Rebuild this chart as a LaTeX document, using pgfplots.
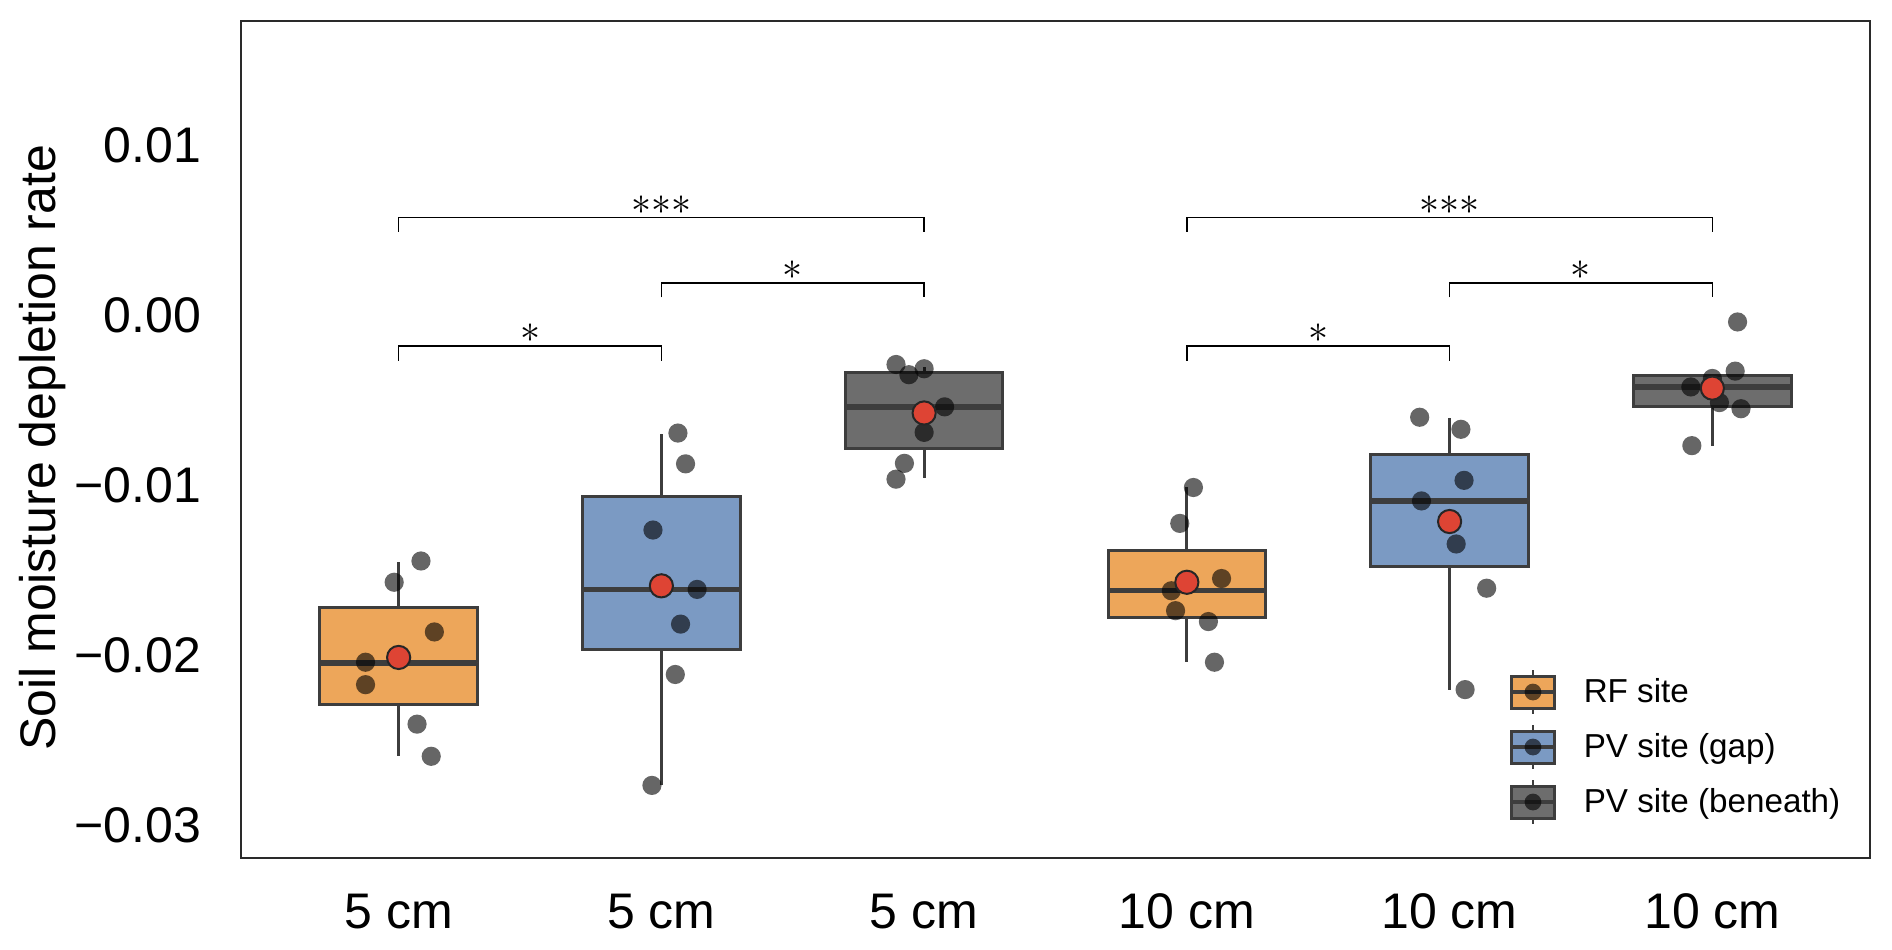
\documentclass[border=0pt]{standalone}
\usepackage{fontspec}
\setmainfont{Liberation Sans}
\usepackage{pgfplots}
\pgfplotsset{compat=1.18}
\usepgfplotslibrary{statistics}
\usetikzlibrary{calc}
\definecolor{rfc}{HTML}{EDA65A}
\definecolor{gapc}{HTML}{7B9AC3}
\definecolor{benc}{HTML}{6D6D6D}
\definecolor{edgec}{HTML}{3D3D3D}
\definecolor{framec}{HTML}{2A2A2A}
\definecolor{meanc}{HTML}{DE4434}
\pgfplotsset{
  sbox/.style={boxplot/box extend=0.6, boxplot/whisker extend=0,
    draw=edgec, line width=0.75pt,
    boxplot/every median/.style={line width=1.35pt}},
  jit/.style={only marks, mark=*, mark size=2.4pt,
    mark options={draw opacity=0, fill=black, fill opacity=0.6}},
  brk/.style={black, line width=0.4pt, sharp plot, no marks},
}
\newcommand{\stars}[1]{\fontsize{9.8}{11}\selectfont$#1$}

\begin{document}
\fontsize{12.5}{15}\selectfont
\begin{tikzpicture}
\begin{axis}[
  scale only axis, width=407.25pt, height=209.25pt,
  xmin=-0.6, xmax=5.6, ymin=-0.0319, ymax=0.0173,
  xtick={0,1,2,3,4,5},
  xticklabels={5 cm,5 cm,5 cm,10 cm,10 cm,10 cm},
  ytick={-0.03,-0.02,-0.01,0,0.01},
  yticklabels={−0.03,−0.02,−0.01,0.00,0.01},
  scaled y ticks=false,
  major tick length=0pt,
  axis line style={framec, line width=0.7pt},
  xticklabel style={anchor=north, inner sep=0pt, yshift=-8.75pt},
  yticklabel style={anchor=east, inner sep=0pt, xshift=-9.75pt},
  boxplot/draw direction=y,
  clip=false,
]
% boxes
\addplot[sbox, fill=rfc, boxplot prepared={draw position=0,
  lower whisker=-0.02588, lower quartile=-0.02289, median=-0.02043,
  upper quartile=-0.01715, upper whisker=-0.01451}] coordinates {};
\addplot[sbox, fill=gapc, boxplot prepared={draw position=1,
  lower whisker=-0.02763, lower quartile=-0.01964, median=-0.01611,
  upper quartile=-0.01066, upper whisker=-0.00695}] coordinates {};
\addplot[sbox, fill=benc, boxplot prepared={draw position=2,
  lower whisker=-0.00959, lower quartile=-0.00784, median=-0.00538,
  upper quartile=-0.00335, upper whisker=-0.00303}] coordinates {};
\addplot[sbox, fill=rfc, boxplot prepared={draw position=3,
  lower whisker=-0.02039, lower quartile=-0.01775, median=-0.01619,
  upper quartile=-0.01383, upper whisker=-0.01012}] coordinates {};
\addplot[sbox, fill=gapc, boxplot prepared={draw position=4,
  lower whisker=-0.02200, lower quartile=-0.01476, median=-0.01091,
  upper quartile=-0.00816, upper whisker=-0.00602}] coordinates {};
\addplot[sbox, fill=benc, boxplot prepared={draw position=5,
  lower whisker=-0.00766, lower quartile=-0.00538, median=-0.00421,
  upper quartile=-0.00353, upper whisker=-0.00345}] coordinates {};

% individual samples
\addplot[jit] coordinates {(0.085,-0.01444) (-0.017,-0.01569) (0.136,-0.01861)
  (-0.126,-0.02039) (-0.126,-0.02171) (0.070,-0.02403) (0.124,-0.02592)};
\addplot[jit] coordinates {(1.063,-0.00692) (1.092,-0.00873) (0.968,-0.01262)
  (1.136,-0.01611) (1.073,-0.01815) (1.053,-0.02111) (0.964,-0.02763)};
\addplot[jit] coordinates {(1.893,-0.00289) (1.942,-0.00349) (2.000,-0.00314)
  (2.078,-0.00538) (2.000,-0.00688) (1.925,-0.00870) (1.893,-0.00963)};
\addplot[jit] coordinates {(3.025,-0.01012) (2.973,-0.01223) (3.132,-0.01547)
  (2.941,-0.01619) (2.957,-0.01736) (3.082,-0.01800) (3.105,-0.02039)};
\addplot[jit] coordinates {(3.886,-0.00599) (4.043,-0.00670) (4.055,-0.00970)
  (3.893,-0.01091) (4.025,-0.01344) (4.141,-0.01604) (4.059,-0.02200)};
\addplot[jit] coordinates {(5.096,-0.00039) (5.087,-0.00328) (5.000,-0.00371)
  (4.918,-0.00421) (5.027,-0.00513) (5.109,-0.00549) (4.922,-0.00766)};

% means
\addplot[only marks, mark=*, mark size=2.9pt,
  mark options={fill=meanc, draw=black!85, line width=0.5pt}]
  coordinates {(0,-0.02011) (1,-0.01590) (2,-0.00574) (3,-0.01569) (4,-0.01212) (5,-0.00428)};

% significance brackets
\addplot[brk] coordinates {(0,0.00490) (0,0.00574) (2,0.00574) (2,0.00490)};
\addplot[brk] coordinates {(1,0.00105) (1,0.00189) (2,0.00189) (2,0.00105)};
\addplot[brk] coordinates {(0,-0.00266) (0,-0.00182) (1,-0.00182) (1,-0.00266)};
\addplot[brk] coordinates {(3,0.00490) (3,0.00574) (5,0.00574) (5,0.00490)};
\addplot[brk] coordinates {(4,0.00105) (4,0.00189) (5,0.00189) (5,0.00105)};
\addplot[brk] coordinates {(3,-0.00266) (3,-0.00182) (4,-0.00182) (4,-0.00266)};
\node[anchor=base, inner sep=0pt, yshift=0.9pt] at (axis cs:1,0.00574) {\stars{{\ast}{\ast}{\ast}}};
\node[anchor=base, inner sep=0pt, yshift=0.9pt] at (axis cs:1.5,0.00189) {\stars{\ast}};
\node[anchor=base, inner sep=0pt, yshift=0.9pt] at (axis cs:0.5,-0.00182) {\stars{\ast}};
\node[anchor=base, inner sep=0pt, yshift=0.9pt] at (axis cs:4,0.00574) {\stars{{\ast}{\ast}{\ast}}};
\node[anchor=base, inner sep=0pt, yshift=0.9pt] at (axis cs:4.5,0.00189) {\stars{\ast}};
\node[anchor=base, inner sep=0pt, yshift=0.9pt] at (axis cs:3.5,-0.00182) {\stars{\ast}};

\coordinate (sw) at (rel axis cs:0,0);
\coordinate (nw) at (rel axis cs:0,1);
\coordinate (ne) at (rel axis cs:1,1);
\coordinate (L1) at (rel axis cs:0.7931,0.1983);
\coordinate (L2) at (rel axis cs:0.7931,0.1326);
\coordinate (L3) at (rel axis cs:0.7931,0.0669);
\end{axis}

% y label
\node[rotate=90, anchor=north, inner sep=0pt] at ($(sw)!0.49!(nw)+(-55.75pt,0)$) {Soil moisture depletion rate};

% legend
\foreach \p/\c/\t in {L1/rfc/RF site, L2/gapc/PV site (gap), L3/benc/PV site (beneath)}{
  \draw[edgec, line width=0.6pt] ($(\p)+(0,4pt)$) -- ($(\p)+(0,5.6pt)$);
  \draw[edgec, line width=0.6pt] ($(\p)+(0,-4pt)$) -- ($(\p)+(0,-5.6pt)$);
  \draw[fill=\c, draw=edgec, line width=0.75pt] ($(\p)+(-5.375pt,-4pt)$) rectangle ($(\p)+(5.375pt,4pt)$);
  \draw[edgec, line width=0.9pt] ($(\p)+(-5.375pt,0)$) -- ($(\p)+(5.375pt,0)$);
  \fill[black, fill opacity=0.6] (\p) circle (2.1pt);
  \node[anchor=base west, inner sep=0pt, font=\fontsize{8.3}{10}\selectfont] at ($(\p)+(12.5pt,-2.7pt)$) {\t};
}

\pgfresetboundingbox
\path[use as bounding box] ($(sw)+(-60.25pt,-22.75pt)$) rectangle ($(ne)+(5.5pt,5.25pt)$);
\end{tikzpicture}
\end{document}
